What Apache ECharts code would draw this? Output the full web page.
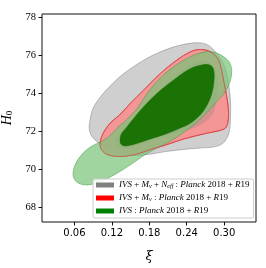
<!DOCTYPE html>
<html>
<head>
<meta charset="utf-8">
<script src="https://cdn.jsdelivr.net/npm/echarts@6/dist/echarts.min.js"></script>
<style>html,body{margin:0;padding:0;background:#fff;}#c{width:266px;height:268px;}</style>
</head>
<body>
<div id="c"></div>
<script>
// ---- data (xi, H0) ----
const xTicks = [0.06, 0.12, 0.18, 0.24, 0.30];
const yTicks = [68, 70, 72, 74, 76, 78];
const legendNames = ['IVS+Mnu+Neff', 'IVS+Mnu', 'IVS'];

const grayOuterX = [0.267,0.278,0.290,0.300,0.306,0.310,0.310,0.308,0.300,0.286,0.262,0.234,0.206,0.182,0.158,0.130,0.106,0.090,0.084,0.085,0.090,0.102,0.118,0.138,0.171,0.198,0.224,0.251];
const grayOuterY = [76.61,76.43,75.99,75.47,74.69,73.64,72.70,71.96,71.44,71.20,71.13,71.05,70.94,70.81,70.73,70.86,71.23,71.65,72.07,72.59,73.22,73.82,74.40,75.00,75.73,76.17,76.47,76.64];

const grayInnerX = [0.127,0.134,0.145,0.159,0.177,0.196,0.222,0.244,0.262,0.276,0.287,0.290,0.287,0.282,0.273,0.258,0.238,0.214,0.190,0.166,0.145,0.132];
const grayInnerY = [71.54,71.96,72.38,72.80,73.43,74.06,74.90,75.42,75.63,75.58,75.10,74.48,73.64,72.96,72.59,72.28,72.07,71.83,71.60,71.36,71.15,71.18];

const redOuterX = [0.262,0.278,0.291,0.299,0.305,0.307,0.306,0.302,0.290,0.272,0.235,0.206,0.182,0.158,0.131,0.111,0.102,0.102,0.108,0.119,0.132,0.150,0.171,0.198,0.224,0.246];
const redOuterY = [76.29,76.17,75.73,74.69,73.64,73.01,72.49,72.17,72.02,71.90,71.60,71.28,71.05,70.79,70.68,70.81,71.13,71.54,72.02,72.49,72.85,73.48,74.16,75.04,75.73,76.17];

const greenOuterX = [0.058,0.062,0.070,0.079,0.091,0.107,0.118,0.130,0.143,0.161,0.178,0.201,0.225,0.250,0.272,0.288,0.302,0.310,0.312,0.308,0.300,0.289,0.273,0.257,0.236,0.214,0.186,0.170,0.154,0.129,0.102,0.081,0.066,0.059];
const greenOuterY = [69.87,70.32,70.71,71.02,71.28,71.54,71.81,72.23,72.59,73.22,74.06,74.90,75.52,75.97,76.18,76.10,75.84,75.52,75.05,74.48,74.01,73.59,73.01,72.49,71.96,71.49,71.02,70.71,70.34,69.82,69.37,69.19,69.29,69.55];

const greenInnerX = [0.133,0.135,0.144,0.166,0.192,0.219,0.246,0.267,0.278,0.283,0.284,0.280,0.268,0.249,0.230,0.208,0.182,0.158,0.142,0.135];
const greenInnerY = [71.49,71.86,72.23,73.12,73.99,74.69,75.29,75.50,75.47,75.26,74.74,73.95,73.12,72.49,72.17,71.88,71.60,71.34,71.23,71.31];

// ---- build ----
function pts(xs, ys) { return xs.map((x, i) => [x, ys[i]]); }

function contourSeries(name, xs, ys, fill, stroke, lw, legendColor) {
  return {
    type: 'custom',
    name: name,
    silent: true,
    itemStyle: { color: legendColor },
    data: pts(xs, ys),
    renderItem: function (params, api) {
      if (params.dataIndex !== 0) return null;
      const all = pts(xs, ys).map(p => api.coord(p));
      return {
        type: 'polygon',
        shape: { points: all, smooth: 0.35 },
        style: { fill: fill, stroke: stroke, lineWidth: lw }
      };
    }
  };
}

const legendText = {
  'IVS+Mnu+Neff': '{i|IVS} + {i|M}{s|ν} + {i|N}{s|eff} : {i|Planck} 2018 + {i|R}19',
  'IVS+Mnu': '{i|IVS} + {i|M}{s|ν} : {i|Planck} 2018 + {i|R}19',
  'IVS': '{i|IVS} : {i|Planck} 2018 + {i|R}19'
};

const chart = echarts.init(document.getElementById('c'), null, { renderer: 'canvas' });
chart.setOption({
  animation: false,
  backgroundColor: '#fff',
  grid: { left: 42, right: 10, top: 14, bottom: 46, containLabel: false, outerBoundsMode: 'none',
          show: true, borderColor: '#111', borderWidth: 1, backgroundColor: 'transparent' },
  xAxis: {
    type: 'value', min: 0.008, max: 0.351,
    name: 'ξ', nameLocation: 'middle', nameGap: 28,
    nameTextStyle: { fontFamily: 'DejaVu Serif', fontStyle: 'italic', fontSize: 13, color: '#000' },
    axisLine: { show: false },
    splitLine: { show: false },
    axisTick: { show: true, customValues: xTicks, length: 3.5, lineStyle: { color: '#111', width: 1 } },
    axisLabel: { customValues: xTicks, margin: 6, formatter: v => v.toFixed(2), fontFamily: 'DejaVu Sans', fontSize: 10, color: '#000' }
  },
  yAxis: {
    type: 'value', min: 67.25, max: 78.15,
    name: '{h|H}{s|0}', nameLocation: 'middle', nameGap: 21, nameRotate: 90,
    nameTextStyle: { color: '#000', rich: {
      h: { fontFamily: 'Liberation Serif', fontStyle: 'italic', fontSize: 14, color: '#000' },
      s: { fontFamily: 'Liberation Serif', fontSize: 9, color: '#000', padding: [6, 0, 0, 0] }
    } },
    axisLine: { show: false },
    splitLine: { show: false },
    axisTick: { show: true, customValues: yTicks, length: 3.5, lineStyle: { color: '#111', width: 1 } },
    axisLabel: { customValues: yTicks, margin: 6, fontFamily: 'Liberation Serif', fontSize: 10.5, color: '#000' }
  },
  legend: {
    orient: 'vertical', left: 93, top: 179,
    data: legendNames, selectedMode: false,
    icon: 'rect', itemWidth: 18, itemHeight: 5, itemGap: 3,
    padding: [1, 4, 2, 3],
    borderColor: '#ccc', borderWidth: 1, borderRadius: 2,
    backgroundColor: 'rgba(255,255,255,0.85)',
    formatter: name => legendText[name],
    textStyle: { fontFamily: 'Liberation Serif', fontSize: 9, color: '#000', lineHeight: 10,
      rich: {
        i: { fontFamily: 'Liberation Serif', fontStyle: 'italic', fontSize: 9, color: '#000', lineHeight: 10 },
        s: { fontFamily: 'Liberation Serif', fontStyle: 'italic', fontSize: 6, color: '#000', lineHeight: 10, padding: [3, 0, 0, 0] }
      } }
  },
  series: [
    contourSeries('IVS+Mnu+Neff', grayOuterX, grayOuterY, 'rgba(128,128,128,0.38)', 'rgba(110,110,110,0.55)', 0.8, '#808080'),
    contourSeries('IVS+Mnu', redOuterX, redOuterY, 'rgba(252,140,140,0.85)', 'rgba(220,60,60,0.9)', 0.9, '#ff0000'),
    contourSeries('grayInner', grayInnerX, grayInnerY, 'rgba(128,128,128,0.25)', 'rgba(110,110,110,0.2)', 0.5, '#808080'),
    contourSeries('IVS', greenOuterX, greenOuterY, 'rgba(120,195,120,0.7)', 'rgba(60,150,60,0.6)', 0.8, '#008000'),
    contourSeries('greenInner', greenInnerX, greenInnerY, 'rgba(22,112,0,0.96)', 'rgba(22,100,0,0.6)', 0.5, '#008000'),
    contourSeries('redEdge', redOuterX, redOuterY, 'none', 'rgba(220,70,70,0.75)', 0.9, '#ff0000')
  ]
});
</script>
</body>
</html>
